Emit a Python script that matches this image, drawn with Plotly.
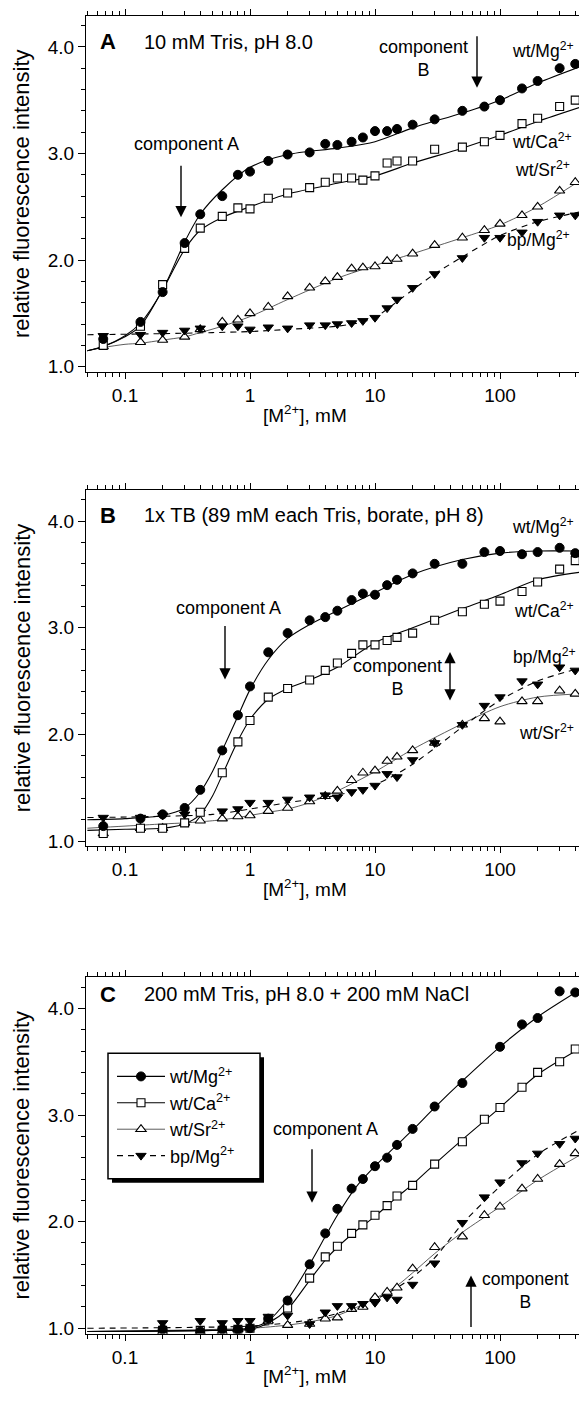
import plotly.graph_objects as go

W, H = 579, 1401
FONT = "Liberation Sans, Arial, Helvetica, sans-serif"

# ---------------- data ----------------
X_AB = [0.067, 0.133, 0.2, 0.3, 0.4, 0.6, 0.8, 1, 1.4, 2, 3, 4, 5, 6.5, 8, 10,
        12.5, 15, 20, 30, 50, 75, 100, 150, 200, 300, 400]
X_C = [0.2, 0.4, 0.6, 0.8, 1, 1.4, 2, 3, 4, 5, 6.5, 8, 10, 12.5, 15, 20, 30,
       50, 75, 100, 150, 200, 300, 400]

A_mg = [1.26, 1.42, 1.70, 2.16, 2.43, 2.60, 2.80, 2.83, 2.93, 2.99, 3.01, 3.09, 3.08, 3.11,
        3.15, 3.21, 3.21, 3.23, 3.27, 3.32, 3.40, 3.44, 3.50, 3.61, 3.68, 3.80, 3.84]
A_ca = [1.20, 1.38, 1.77, 2.11, 2.30, 2.41, 2.49, 2.48, 2.58, 2.63, 2.68, 2.73, 2.77, 2.77,
        2.75, 2.79, 2.91, 2.93, 2.93, 3.04, 3.06, 3.11, 3.17, 3.28, 3.33, 3.44, 3.50]
A_sr = [1.19, 1.23, 1.25, 1.28, 1.35, 1.42, 1.44, 1.50, 1.56, 1.66, 1.74, 1.80, 1.84, 1.92,
        1.93, 1.94, 1.99, 2.01, 2.06, 2.14, 2.21, 2.28, 2.34, 2.42, 2.50, 2.65, 2.73]
A_bp = [1.29, 1.30, 1.32, 1.34, 1.36, 1.38, 1.38, 1.35, 1.37, 1.36, 1.39, 1.39, 1.40, 1.41,
        1.43, 1.46, 1.55, 1.63, 1.74, 1.87, 2.02, 2.21, 2.21, 2.26, 2.36, 2.42, 2.42]

B_mg = [1.14, 1.21, 1.25, 1.31, 1.48, 1.85, 2.18, 2.45, 2.77, 2.95, 3.07, 3.10, 3.16, 3.26,
        3.32, 3.31, 3.40, 3.45, 3.51, 3.60, 3.60, 3.71, 3.72, 3.69, 3.71, 3.75, 3.70]
B_ca = [1.07, 1.12, 1.12, 1.17, 1.27, 1.64, 1.93, 2.13, 2.35, 2.43, 2.51, 2.60, 2.67, 2.76,
        2.84, 2.84, 2.88, 2.91, 2.95, 3.07, 3.15, 3.22, 3.25, 3.34, 3.43, 3.55, 3.63]
B_sr = [1.07, 1.12, 1.12, 1.17, 1.19, 1.21, 1.23, 1.24, 1.28, 1.31, 1.37, 1.42, 1.47, 1.57,
        1.64, 1.66, 1.75, 1.79, 1.85, 1.92, 2.09, 2.15, 2.12, 2.31, 2.31, 2.41, 2.38]
B_bp = [1.22, 1.22, 1.24, 1.25, 1.27, 1.28, 1.30, 1.36, 1.36, 1.39, 1.41, 1.43, 1.41, 1.46,
        1.48, 1.52, 1.63, 1.60, 1.76, 1.92, 2.09, 2.27, 2.35, 2.50, 2.47, 2.63, 2.60]

C_mg = [0.99, 0.97, 0.99, 0.99, 1.00, 1.09, 1.26, 1.60, 1.89, 2.12, 2.31, 2.40, 2.52, 2.60,
        2.72, 2.87, 3.08, 3.30, None, 3.64, 3.85, 3.91, 4.16, 4.15]
C_ca = [0.98, 0.98, 0.98, 0.99, 1.00, 1.08, 1.19, 1.47, 1.67, 1.77, 1.89, 1.97, 2.06, 2.15,
        2.24, 2.34, 2.54, 2.75, 2.96, 3.07, 3.26, 3.40, 3.50, 3.62]
C_sr = [0.97, 0.97, 0.97, 0.99, 1.01, 1.07, 1.03, 1.04, 1.09, 1.10, 1.18, 1.20, 1.29, 1.34,
        1.38, 1.56, 1.76, 1.86, 2.06, 2.14, 2.31, 2.40, 2.54, 2.64]
C_bp = [1.05, 1.07, 1.05, 1.07, 1.07, 1.11, 1.12, 1.04, 1.15, 1.21, 1.21, 1.23, 1.24, 1.29,
        1.27, 1.41, 1.61, 1.99, 2.23, 2.37, 2.55, 2.64, 2.73, 2.78]

# fitted curves
A_fit_x = [0.05, 0.067, 0.1, 0.133, 0.2, 0.3, 0.4, 0.6, 1, 2, 5, 10, 20, 50, 100, 200, 430]
A_mg_fit = [1.15, 1.19, 1.29, 1.41, 1.72, 2.17, 2.43, 2.66, 2.87, 2.99, 3.05, 3.11, 3.24, 3.38, 3.50, 3.66, 3.81]
A_ca_fit = [1.15, 1.19, 1.28, 1.38, 1.72, 2.10, 2.28, 2.40, 2.50, 2.62, 2.72, 2.79, 2.91, 3.05, 3.17, 3.30, 3.43]
A_sr_fit = [1.15, 1.18, 1.21, 1.22, 1.25, 1.28, 1.32, 1.38, 1.47, 1.63, 1.83, 1.95, 2.06, 2.21, 2.33, 2.50, 2.74]
A_bp_fit_x = [0.05, 0.2, 0.5, 1, 2, 5, 8, 10, 12.5, 15, 20, 30, 50, 100, 200, 430]
A_bp_fit = [1.30, 1.31, 1.32, 1.33, 1.35, 1.38, 1.42, 1.46, 1.54, 1.61, 1.72, 1.87, 2.03, 2.23, 2.36, 2.45]

B_fit_x = [0.05, 0.1, 0.2, 0.3, 0.4, 0.5, 0.6, 0.8, 1, 1.4, 2, 3, 5, 10, 20, 50, 100, 200, 430]
B_mg_fit = [1.20, 1.21, 1.24, 1.31, 1.46, 1.65, 1.85, 2.17, 2.42, 2.70, 2.90, 3.03, 3.16, 3.33, 3.50, 3.64, 3.70, 3.72, 3.72]
B_ca_fit = [1.10, 1.11, 1.12, 1.16, 1.25, 1.42, 1.62, 1.94, 2.14, 2.33, 2.43, 2.51, 2.63, 2.86, 3.00, 3.18, 3.31, 3.45, 3.52]
B_sr_fit = [1.12, 1.14, 1.16, 1.17, 1.18, 1.19, 1.20, 1.22, 1.24, 1.27, 1.30, 1.36, 1.47, 1.65, 1.86, 2.10, 2.26, 2.35, 2.38]
B_bp_fit_x = [0.05, 0.5, 1, 2, 5, 10, 15, 20, 30, 50, 100, 200, 430]
B_bp_fit = [1.22, 1.25, 1.30, 1.36, 1.43, 1.53, 1.63, 1.72, 1.87, 2.07, 2.32, 2.50, 2.62]

C_fit_x = [0.05, 0.5, 1, 1.4, 2, 3, 4, 5, 7, 10, 15, 20, 30, 50, 100, 200, 430]
C_mg_fit = [0.97, 0.98, 1.00, 1.07, 1.27, 1.60, 1.86, 2.06, 2.32, 2.52, 2.72, 2.86, 3.07, 3.32, 3.64, 3.92, 4.17]
C_ca_fit = [0.97, 0.98, 0.99, 1.05, 1.18, 1.45, 1.64, 1.76, 1.91, 2.05, 2.23, 2.35, 2.54, 2.77, 3.07, 3.38, 3.62]
C_sb_fit_x = [0.05, 1, 2, 3, 5, 10, 15, 20, 30, 50, 100, 200, 430]
C_sr_fit = [0.97, 1.00, 1.03, 1.06, 1.12, 1.28, 1.40, 1.52, 1.70, 1.90, 2.14, 2.39, 2.62]
C_bp_fit = [1.00, 1.02, 1.05, 1.08, 1.14, 1.27, 1.38, 1.48, 1.66, 1.98, 2.33, 2.63, 2.86]

SERIES = ["wt/Mg<sup>2+</sup>", "wt/Ca<sup>2+</sup>", "wt/Sr<sup>2+</sup>", "bp/Mg<sup>2+</sup>"]

# ---------------- styles ----------------
MARK = [dict(symbol="circle", size=9, color="black", line=dict(color="black", width=1)),
        dict(symbol="square", size=8, color="white", line=dict(color="black", width=1.1)),
        dict(symbol="triangle-up", size=9, color="white", line=dict(color="black", width=1.1)),
        dict(symbol="triangle-down", size=9, color="black", line=dict(color="black", width=1))]
LINE = [dict(color="black", width=1.1),
        dict(color="black", width=1.1),
        dict(color="#333333", width=0.8),
        dict(color="black", width=1.1, dash="6px,5px")]

fig = go.Figure()

panels = [
    ("x", "y", X_AB, [A_mg, A_ca, A_sr, A_bp],
     [(A_fit_x, A_mg_fit), (A_fit_x, A_ca_fit), (A_fit_x, A_sr_fit), (A_bp_fit_x, A_bp_fit)]),
    ("x2", "y2", X_AB, [B_mg, B_ca, B_sr, B_bp],
     [(B_fit_x, B_mg_fit), (B_fit_x, B_ca_fit), (B_fit_x, B_sr_fit), (B_bp_fit_x, B_bp_fit)]),
    ("x3", "y3", X_C, [C_mg, C_ca, C_sr, C_bp],
     [(C_fit_x, C_mg_fit), (C_fit_x, C_ca_fit), (C_sb_fit_x, C_sr_fit), (C_sb_fit_x, C_bp_fit)]),
]

for xa, ya, xs, ys, fits in panels:
    for k in (2, 3, 1, 0):
        fx_, fy_ = fits[k]
        fig.add_trace(go.Scatter(x=fx_, y=fy_, xaxis=xa, yaxis=ya, mode="lines",
                                 line=dict(shape="spline", smoothing=0.8, **LINE[k]),
                                 showlegend=False, hoverinfo="skip"))
    for k in (2, 3, 1, 0):
        fig.add_trace(go.Scatter(x=xs, y=ys[k], xaxis=xa, yaxis=ya, mode="markers",
                                 marker=MARK[k], showlegend=False))

# legend entries (panel C)
for k in range(4):
    fig.add_trace(go.Scatter(x=[None], y=[None], xaxis="x3", yaxis="y3",
                             mode="lines+markers", name=SERIES[k],
                             marker=MARK[k], line=LINE[k], showlegend=True))


def fx(px):
    return px / W


def fy(py):
    return 1 - py / H


# axes geometry (pixels)
X_LEFT = 86
XR = [(X_LEFT - 250) / 125, (W - 250) / 125]
YR = [0.95, 4.29]
PANEL_TOP = [16, 492, 981]
PX_PER_UNIT = 107.0


def ydom(top):
    bottom = top + (YR[1] - YR[0]) * PX_PER_UNIT
    return [fy(bottom), fy(top)]


minor_x = [m * 10 ** e for e in range(-2, 3) for m in range(2, 10)]
axis_common = dict(showline=True, linecolor="black", linewidth=1.2, ticks="outside",
                   tickcolor="black", tickwidth=1, showgrid=False, zeroline=False,
                   tickfont=dict(family=FONT, size=19, color="black"))

layout = dict(width=W, height=H, margin=dict(l=0, r=0, t=0, b=0),
              paper_bgcolor="white", plot_bgcolor="white", showlegend=True,
              font=dict(family=FONT, color="black"))

for i, top in enumerate(PANEL_TOP):
    sx = "" if i == 0 else str(i + 1)
    layout["xaxis" + sx] = dict(type="log", range=XR, domain=[fx(X_LEFT), 1.0],
                                anchor="y" + sx, mirror="ticks",
                                tickmode="array", tickvals=[0.1, 1, 10, 100],
                                ticktext=["0.1", "1", "10", "100"], ticklen=6,
                                minor=dict(tickmode="array", tickvals=minor_x, ticklen=4,
                                           ticks="outside", tickcolor="black", showgrid=False),
                                **axis_common)
    layout["yaxis" + sx] = dict(range=YR, domain=ydom(top), anchor="x" + sx,
                                tickmode="array", tickvals=[1, 2, 3, 4],
                                ticktext=["1.0", "2.0", "3.0", "4.0"], ticklen=7,
                                minor=dict(tickmode="array",
                                           tickvals=[1.2, 1.4, 1.6, 1.8, 2.2, 2.4, 2.6, 2.8,
                                                     3.2, 3.4, 3.6, 3.8, 4.2],
                                           ticklen=4, ticks="outside", tickcolor="black"),
                                **axis_common)

layout["legend"] = dict(x=fx(112), y=fy(1062), xanchor="left", yanchor="top",
                        bgcolor="rgba(0,0,0,0)", borderwidth=0, itemwidth=48,
                        font=dict(family=FONT, size=18, color="black"), tracegroupgap=0)

fig.update_layout(**layout)

# legend box with shadow
fig.add_shape(type="rect", xref="paper", yref="paper", x0=fx(112), x1=fx(264),
              y0=fy(1187), y1=fy(1061), fillcolor="black", line=dict(width=0), layer="above")
fig.add_shape(type="rect", xref="paper", yref="paper", x0=fx(108), x1=fx(260),
              y0=fy(1183), y1=fy(1057), fillcolor="white", line=dict(color="black", width=1.5),
              layer="above")

ann = []


def text(px, py, s, size=18, anchor="center", bold=False):
    if bold:
        s = "<b>" + s + "</b>"
    ann.append(dict(x=fx(px), y=fy(py), xref="paper", yref="paper", text=s, showarrow=False,
                    xanchor=anchor, yanchor="middle",
                    font=dict(family=FONT, size=size, color="black")))


def arrow(px, tip, tail, both=False):
    ann.append(dict(x=fx(px), y=fy(tip), xref="paper", yref="paper", ax=0, ay=tail - tip,
                    text="", showarrow=True, arrowhead=2, arrowsize=1.6, arrowwidth=1.4,
                    arrowcolor="black", arrowside="end+start" if both else "end"))


# axis titles
for i, top in enumerate(PANEL_TOP):
    bottom = top + (YR[1] - YR[0]) * PX_PER_UNIT
    ann.append(dict(x=fx(22), y=fy((top + bottom) / 2), xref="paper", yref="paper",
                    text="relative fluorescence intensity", textangle=-90, showarrow=False,
                    xanchor="center", yanchor="middle",
                    font=dict(family=FONT, size=22, color="black")))
    text(305, bottom + 42, "[M<sup>2+</sup>], mM", size=19)

SP = 17.5
# panel A
text(108, 42, "A", size=22, bold=True)
text(142, 42, "10 mM Tris, pH 8.0", size=20, anchor="left")
text(186, 145, "component A")
arrow(181, 218, 165)
text(423, 59, "component<br>B")
arrow(477, 88, 35)
text(576, 50, SERIES[0], size=SP, anchor="right")
text(574, 142, SERIES[1], size=SP, anchor="right")
text(572, 170, SERIES[2], size=SP, anchor="right")
text(572, 240, SERIES[3], size=SP, anchor="right")

# panel B
text(108, 517, "B", size=22, bold=True)
text(142, 517, "1x TB (89 mM each Tris, borate, pH 8)", size=20, anchor="left")
text(228, 610, "component A")
arrow(225, 682, 627)
text(397, 680, "component<br>B")
arrow(450, 703, 653, both=True)
text(576, 528, SERIES[0], size=SP, anchor="right")
text(576, 612, SERIES[1], size=SP, anchor="right")
text(578, 658, SERIES[3], size=SP, anchor="right")
text(576, 735, SERIES[2], size=SP, anchor="right")

# panel C
text(108, 998, "C", size=22, bold=True)
text(142, 998, "200 mM Tris, pH 8.0 + 200 mM NaCl", size=20, anchor="left")
text(325, 1133, "component A")
arrow(312, 1207, 1152)
text(525, 1295, "component<br>B", size=17.5)
arrow(471, 1280, 1333)

fig.update_layout(annotations=ann)
fig.write_html("out.html", config={"displayModeBar": False},
               post_script="document.body.style.margin='0';"
                           "document.documentElement.style.overflow='hidden';")
